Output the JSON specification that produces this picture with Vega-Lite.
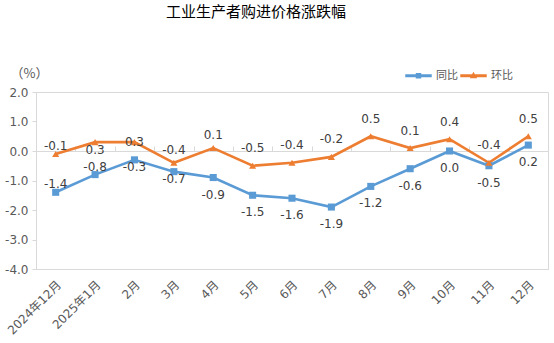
{
  "$schema": "https://vega.github.io/schema/vega-lite/v6.json",
  "width": 512,
  "height": 177,
  "autosize": {"type": "none"},
  "padding": {"left": 36, "top": 92, "right": 6, "bottom": 74},
  "background": "white",
  "title": {
    "text": "工业生产者购进价格涨跌幅",
    "font": "Noto Sans CJK SC",
    "fontSize": 15,
    "fontWeight": "normal",
    "color": "#000000",
    "anchor": "middle",
    "frame": "group",
    "dx": -36,
    "offset": 42
  },
  "config": {
    "view": {"stroke": "#d9d9d9", "strokeWidth": 1},
    "font": "DejaVu Sans",
    "locale": {"number": {"decimal": ".", "thousands": ",", "grouping": [3], "currency": ["", ""], "minus": "-"}}
  },
  "data": {
    "values": [
      {"month": "2024年12月", "series": "同比", "value": -1.4},
      {"month": "2025年1月", "series": "同比", "value": -0.8},
      {"month": "2月", "series": "同比", "value": -0.3},
      {"month": "3月", "series": "同比", "value": -0.7},
      {"month": "4月", "series": "同比", "value": -0.9},
      {"month": "5月", "series": "同比", "value": -1.5},
      {"month": "6月", "series": "同比", "value": -1.6},
      {"month": "7月", "series": "同比", "value": -1.9},
      {"month": "8月", "series": "同比", "value": -1.2},
      {"month": "9月", "series": "同比", "value": -0.6},
      {"month": "10月", "series": "同比", "value": 0.0},
      {"month": "11月", "series": "同比", "value": -0.5},
      {"month": "12月", "series": "同比", "value": 0.2},
      {"month": "2024年12月", "series": "环比", "value": -0.1},
      {"month": "2025年1月", "series": "环比", "value": 0.3},
      {"month": "2月", "series": "环比", "value": 0.3},
      {"month": "3月", "series": "环比", "value": -0.4},
      {"month": "4月", "series": "环比", "value": 0.1},
      {"month": "5月", "series": "环比", "value": -0.5},
      {"month": "6月", "series": "环比", "value": -0.4},
      {"month": "7月", "series": "环比", "value": -0.2},
      {"month": "8月", "series": "环比", "value": 0.5},
      {"month": "9月", "series": "环比", "value": 0.1},
      {"month": "10月", "series": "环比", "value": 0.4},
      {"month": "11月", "series": "环比", "value": -0.4},
      {"month": "12月", "series": "环比", "value": 0.5}
    ]
  },
  "resolve": {"axis": {"x": "independent"}},
  "encoding": {
    "x": {
      "field": "month",
      "type": "nominal",
      "sort": null,
      "scale": {"type": "band", "paddingInner": 0, "paddingOuter": 0}
    },
    "y": {
      "field": "value",
      "type": "quantitative",
      "scale": {"domain": [-4, 2], "nice": false, "zero": false},
      "axis": {
        "values": [-4, -3, -2, -1, 0, 1, 2],
        "format": ".1f",
        "grid": false,
        "domainColor": "#d9d9d9",
        "tickColor": "#d9d9d9",
        "tickSize": 4,
        "labelColor": "#595959",
        "labelFont": "DejaVu Sans",
        "labelFontSize": 12,
        "labelPadding": 4,
        "title": "（%）",
        "titleAngle": 0,
        "titleAlign": "left",
        "titleBaseline": "middle",
        "titleX": -26,
        "titleY": -19,
        "titleFont": "Noto Sans CJK SC",
        "titleFontSize": 13,
        "titleFontWeight": "normal",
        "titleColor": "#595959"
      }
    }
  },
  "layer": [
    {
      "mark": {"type": "point", "filled": true, "size": 625, "opacity": 0},
      "encoding": {
        "x": {"field": "month", "type": "nominal", "sort": null, "axis": null},
        "color": {
          "field": "series",
          "type": "nominal",
          "scale": {"domain": ["同比", "环比"], "range": ["#5B9BD5", "#ED7D31"]},
          "legend": {
            "title": null,
            "orient": "none",
            "direction": "horizontal",
            "legendX": 369,
            "legendY": -30,
            "symbolSize": 625,
            "symbolOpacity": 1,
            "labelOffset": 4,
            "columnPadding": 0,
            "labelFont": "Noto Sans CJK SC",
            "labelFontSize": 11,
            "labelColor": "#595959"
          }
        },
        "shape": {
          "field": "series",
          "type": "nominal",
          "scale": {"domain": ["同比", "环比"], "range": ["M-1,-0.06H1V0.06H-1Z M-0.16,-0.16H0.16V0.16H-0.16Z", "M-1,-0.06H1V0.06H-1Z M0,-0.2L0.19,0.14H-0.19Z"]},
          "legend": {
            "title": null,
            "orient": "none",
            "direction": "horizontal",
            "legendX": 369,
            "legendY": -30,
            "symbolSize": 625,
            "symbolOpacity": 1,
            "labelOffset": 4,
            "columnPadding": 0,
            "labelFont": "Noto Sans CJK SC",
            "labelFontSize": 11,
            "labelColor": "#595959"
          }
        }
      }
    },
    {
      "mark": {"type": "line", "strokeWidth": 2.6},
      "encoding": {
        "x": {
          "field": "month",
          "type": "nominal",
          "sort": null,
          "scale": {"type": "band", "paddingInner": 0, "paddingOuter": 0},
          "axis": {
            "orient": "bottom",
            "title": null,
            "domainColor": "#d9d9d9",
            "ticks": false,
            "labelAngle": -45,
            "labelFont": "DejaVu Sans, Noto Sans CJK SC",
            "labelFontSize": 12,
            "labelColor": "#595959",
            "labelPadding": 10
          }
        },
        "color": {
          "field": "series",
          "type": "nominal",
          "scale": {"domain": ["同比", "环比"], "range": ["#5B9BD5", "#ED7D31"]},
          "legend": null
        }
      }
    },
    {
      "transform": [{"filter": "datum.series === '同比'"}],
      "mark": {"type": "point", "filled": true, "size": 50, "opacity": 1, "shape": "square"},
      "encoding": {
        "x": {
          "field": "month",
          "type": "nominal",
          "sort": null,
          "scale": {"type": "band", "paddingInner": 0, "paddingOuter": 0},
          "axis": {
            "orient": "top",
            "offset": -59,
            "title": null,
            "labels": false,
            "ticks": true,
            "tickBand": "extent",
            "tickSize": 5,
            "tickColor": "#d9d9d9",
            "domainColor": "#d9d9d9"
          }
        },
        "color": {
          "field": "series",
          "type": "nominal",
          "scale": {"domain": ["同比", "环比"], "range": ["#5B9BD5", "#ED7D31"]},
          "legend": null
        }
      }
    },
    {
      "transform": [{"filter": "datum.series === '环比'"}],
      "mark": {"type": "point", "filled": true, "size": 50, "opacity": 1, "shape": "triangle-up"},
      "encoding": {
        "x": {"field": "month", "type": "nominal", "sort": null, "axis": null},
        "color": {
          "field": "series",
          "type": "nominal",
          "scale": {"domain": ["同比", "环比"], "range": ["#5B9BD5", "#ED7D31"]},
          "legend": null
        }
      }
    },
    {
      "transform": [{"filter": "datum.series === '同比' && indexof(['2024年12月','2025年1月'], datum.month) >= 0"}],
      "mark": {"type": "text", "dy": -8, "fontSize": 12, "font": "DejaVu Sans", "color": "#404040"},
      "encoding": {"x": {"field": "month", "type": "nominal", "sort": null, "axis": null}, "text": {"field": "value", "type": "quantitative", "format": ".1f"}}
    },
    {
      "transform": [{"filter": "datum.series === '同比' && indexof(['2月','3月'], datum.month) >= 0"}],
      "mark": {"type": "text", "dy": 7, "fontSize": 12, "font": "DejaVu Sans", "color": "#404040"},
      "encoding": {"x": {"field": "month", "type": "nominal", "sort": null, "axis": null}, "text": {"field": "value", "type": "quantitative", "format": ".1f"}}
    },
    {
      "transform": [{"filter": "datum.series === '同比' && indexof(['2024年12月','2025年1月','2月','3月'], datum.month) < 0"}],
      "mark": {"type": "text", "dy": 17, "fontSize": 12, "font": "DejaVu Sans", "color": "#404040"},
      "encoding": {"x": {"field": "month", "type": "nominal", "sort": null, "axis": null}, "text": {"field": "value", "type": "quantitative", "format": ".1f"}}
    },
    {
      "transform": [{"filter": "datum.series === '环比' && datum.month === '2024年12月'"}],
      "mark": {"type": "text", "dy": -8, "fontSize": 12, "font": "DejaVu Sans", "color": "#404040"},
      "encoding": {"x": {"field": "month", "type": "nominal", "sort": null, "axis": null}, "text": {"field": "value", "type": "quantitative", "format": ".1f"}}
    },
    {
      "transform": [{"filter": "datum.series === '环比' && datum.month === '2025年1月'"}],
      "mark": {"type": "text", "dy": 8, "fontSize": 12, "font": "DejaVu Sans", "color": "#404040"},
      "encoding": {"x": {"field": "month", "type": "nominal", "sort": null, "axis": null}, "text": {"field": "value", "type": "quantitative", "format": ".1f"}}
    },
    {
      "transform": [{"filter": "datum.series === '环比' && datum.month === '2月'"}],
      "mark": {"type": "text", "dy": 0, "fontSize": 12, "font": "DejaVu Sans", "color": "#404040"},
      "encoding": {"x": {"field": "month", "type": "nominal", "sort": null, "axis": null}, "text": {"field": "value", "type": "quantitative", "format": ".1f"}}
    },
    {
      "transform": [{"filter": "datum.series === '环比' && indexof(['3月','4月'], datum.month) >= 0"}],
      "mark": {"type": "text", "dy": -13, "fontSize": 12, "font": "DejaVu Sans", "color": "#404040"},
      "encoding": {"x": {"field": "month", "type": "nominal", "sort": null, "axis": null}, "text": {"field": "value", "type": "quantitative", "format": ".1f"}}
    },
    {
      "transform": [{"filter": "datum.series === '环比' && indexof(['2024年12月','2025年1月','2月','3月','4月'], datum.month) < 0"}],
      "mark": {"type": "text", "dy": -17.5, "fontSize": 12, "font": "DejaVu Sans", "color": "#404040"},
      "encoding": {"x": {"field": "month", "type": "nominal", "sort": null, "axis": null}, "text": {"field": "value", "type": "quantitative", "format": ".1f"}}
    }
  ]
}
